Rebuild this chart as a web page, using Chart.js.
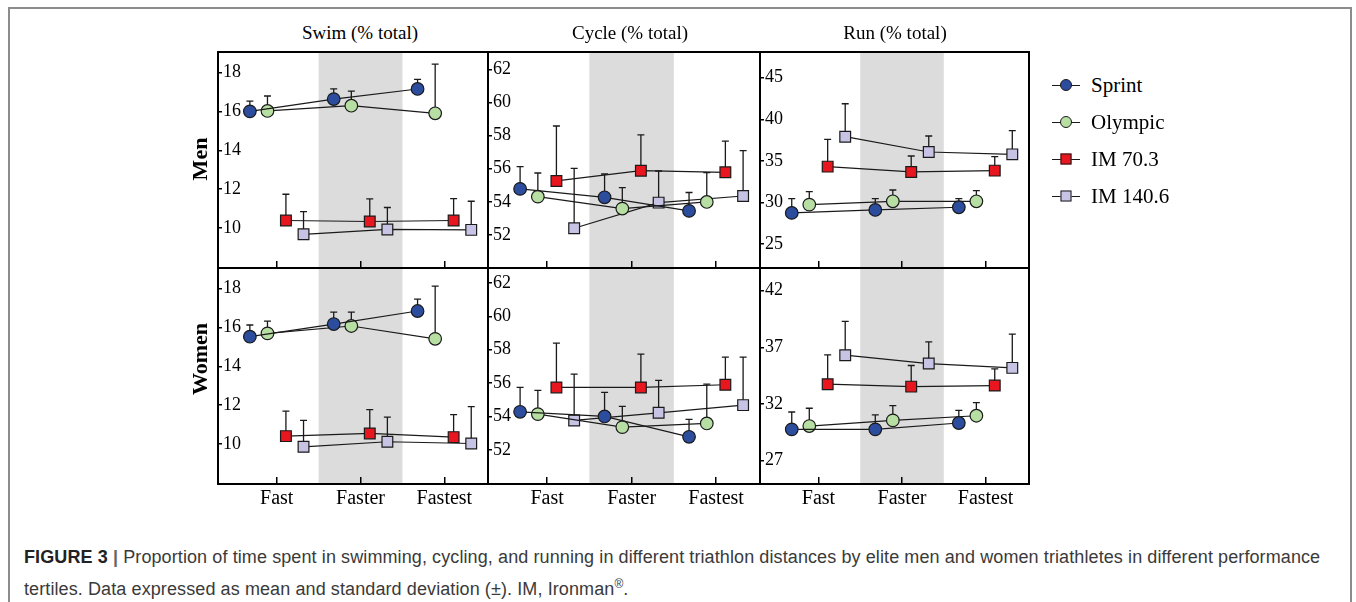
<!DOCTYPE html>
<html>
<head>
<meta charset="utf-8">
<script src="https://cdn.jsdelivr.net/npm/chart.js@4"></script>
<style>
  body { margin: 0; background: #fff; }
  #fig { position: relative; width: 1356px; height: 602px; overflow: hidden; font-family: 'Liberation Serif', 'Times New Roman', serif; color: #000; }
  #frame { position: absolute; left: 8px; top: 7px; width: 1344px; height: 700px; border: 2px solid #8c8c8c; border-bottom: none; box-sizing: border-box; }
  .panel { position: absolute; }
  .coltitle { position: absolute; top: 22px; font-size: 19px; transform: translateX(-50%); white-space: nowrap; }
  .rowlabel { position: absolute; font-weight: bold; font-size: 22px; transform: translate(-50%, -50%) rotate(-90deg); white-space: nowrap; }
  .item { position: absolute; left: 1052px; height: 24px; display: flex; align-items: center; }
  .sym { position: relative; width: 28px; height: 24px; }
  .sym .ln { position: absolute; left: 0; right: 0; top: 11.5px; height: 1.3px; background: #1a1a1a; }
  .sym .mk { position: absolute; left: 50%; top: 50%; transform: translate(-50%, -50%); border: 1.2px solid #1a1a1a; box-sizing: border-box; }
  .item span { margin-left: 11px; font-size: 21px; white-space: nowrap; }
  #caption { position: absolute; left: 24px; top: 541px; font-family: 'Liberation Sans', Arial, sans-serif; font-size: 18px; letter-spacing: 0.1px; line-height: 32px; color: #3a3a3a; white-space: nowrap; }
  #caption b { color: #222; }
  #caption sup { font-size: 12px; line-height: 0; }
</style>
</head>
<body>
<div id="fig">
  <div id="frame"></div>
  <div id="caption"><b>FIGURE 3</b> <b style="color:#666">|</b> Proportion of time spent in swimming, cycling, and running in different triathlon distances by elite men and women triathletes in different performance<br>tertiles. Data expressed as mean and standard deviation (±). IM, Ironman<sup>®</sup>.</div>
</div>
<script>
// categories and series
const tertiles = ['Fast', 'Faster', 'Fastest'];
const seriesNames = ['Sprint', 'Olympic', 'IM 70.3', 'IM 140.6'];
const disciplines = ['Swim (% total)', 'Cycle (% total)', 'Run (% total)'];
const sexes = ['Men', 'Women'];

// tick labels
const swimTicks = [10, 12, 14, 16, 18];
const cycleTicks = [52, 54, 56, 58, 60, 62];
const menRunTicks = [25, 30, 35, 40, 45];
const womenRunTicks = [27, 32, 37, 42];

// means (rows = Sprint, Olympic, IM 70.3, IM 140.6; cols = Fast, Faster, Fastest)
const menSwim = [[16.0, 16.63, 17.15], [16.02, 16.29, 15.9], [10.39, 10.34, 10.39], [9.68, 9.93, 9.91]];
const menCycle = [[54.78, 54.27, 53.45], [54.31, 53.59, 53.99], [55.26, 55.88, 55.78], [52.4, 53.95, 54.35]];
const menRun = [[28.73, 29.09, 29.41], [29.73, 30.13, 30.13], [34.3, 33.66, 33.82], [37.91, 36.06, 35.78]];
const womenSwim = [[15.52, 16.17, 16.84], [15.69, 16.07, 15.41], [10.41, 10.55, 10.36], [9.86, 10.12, 10.03]];
const womenCycle = [[54.28, 54.0, 52.78], [54.14, 53.36, 53.58], [55.74, 55.74, 55.9], [53.76, 54.22, 54.68]];
const womenRun = [[29.77, 29.77, 30.33], [30.06, 30.56, 30.97], [33.75, 33.54, 33.63], [36.31, 35.57, 35.19]];

// standard deviations (drawn upward only)
const menSwimSd = [[0.53, 0.53, 0.49], [0.77, 0.75, 2.53], [1.35, 1.16, 1.13], [1.17, 1.13, 1.47]];
const menCycleSd = [[1.34, 1.41, 1.11], [1.43, 1.27, 1.77], [3.32, 2.16, 1.89], [3.62, 1.91, 2.74]];
const menRunSd = [[1.72, 1.36, 1.04], [1.56, 1.36, 1.28], [3.29, 1.92, 1.68], [3.96, 1.93, 2.85]];
const womenSwimSd = [[0.6, 0.61, 0.61], [0.63, 0.71, 2.71], [1.29, 1.22, 1.15], [1.36, 1.27, 1.9]];
const womenCycleSd = [[1.46, 1.44, 1.04], [1.42, 1.24, 2.36], [2.66, 2.0, 1.66], [2.78, 1.94, 2.88]];
const womenRunSd = [[1.53, 1.27, 1.12], [1.57, 1.3, 1.16], [2.59, 1.86, 1.47], [2.98, 1.92, 2.98]];

// styling
const fills = ['#2c4c9e', '#b8dfa3', '#e8171f', '#c6c3e4'];
const markers = ['circle', 'circle', 'rect', 'rect'];
const markerRadius = [6.3, 6.3, 7.6, 7.6];
const dodge = [-0.32, -0.11, 0.11, 0.32];
const colEdges = [218, 488, 760, 1029];
const rowEdges = [52, 268, 484];
const M = 6; // canvas margin around the plot box

const fig = document.getElementById('fig');

// Shaded middle tertile + upward SD bars + panel frame
const panelDecor = {
  id: 'panelDecor',
  beforeDraw(chart) {
    const { ctx, chartArea, scales: { x } } = chart;
    const x0 = x.getPixelForValue(1.5), x1 = x.getPixelForValue(2.5);
    ctx.save();
    ctx.fillStyle = '#dcdcdc';
    ctx.fillRect(x0, chartArea.top, x1 - x0, chartArea.bottom - chartArea.top);
    ctx.restore();
  },
  beforeDatasetsDraw(chart) {
    const { ctx, scales: { y } } = chart;
    ctx.save();
    ctx.strokeStyle = '#1a1a1a';
    ctx.lineWidth = 1.3;
    chart.data.datasets.forEach((ds, di) => {
      chart.getDatasetMeta(di).data.forEach((pt, i) => {
        const yTop = y.getPixelForValue(ds.data[i].y + ds.sd[i]);
        ctx.beginPath();
        ctx.moveTo(pt.x, pt.y);
        ctx.lineTo(pt.x, yTop);
        ctx.moveTo(pt.x - 3.5, yTop);
        ctx.lineTo(pt.x + 3.5, yTop);
        ctx.stroke();
      });
    });
    ctx.restore();
  },
  afterDraw(chart) {
    const { ctx, chartArea: a } = chart;
    ctx.save();
    ctx.strokeStyle = '#000';
    ctx.lineWidth = 2;
    ctx.strokeRect(a.left, a.top, a.right - a.left, a.bottom - a.top);
    ctx.restore();
  }
};

function noPad(sc) {
  sc.paddingTop = 0;
  sc.paddingBottom = 0;
  sc.paddingLeft = 0;
  sc.paddingRight = 0;
}

function makePanel(col, row, means, sds, yMin, yMax, yTicks) {
  const showX = row === 1;
  const w = colEdges[col + 1] - colEdges[col];
  const h = rowEdges[row + 1] - rowEdges[row];
  const extra = showX ? 32 : 0;
  const cw = w + 2 * M, ch = h + 2 * M + extra;

  const wrap = document.createElement('div');
  wrap.className = 'panel';
  wrap.style.left = (colEdges[col] - M) + 'px';
  wrap.style.top = (rowEdges[row] - M) + 'px';
  wrap.style.width = cw + 'px';
  wrap.style.height = ch + 'px';
  const canvas = document.createElement('canvas');
  canvas.width = cw;
  canvas.height = ch;
  canvas.style.width = cw + 'px';
  canvas.style.height = ch + 'px';
  wrap.appendChild(canvas);
  fig.appendChild(wrap);

  const datasets = means.map((vals, s) => ({
    label: seriesNames[s],
    data: vals.map((v, i) => ({ x: i + 1 + dodge[s], y: v })),
    sd: sds[s],
    borderColor: '#1a1a1a',
    borderWidth: 1.2,
    tension: 0,
    fill: false,
    pointStyle: markers[s],
    pointRadius: markerRadius[s],
    pointHoverRadius: markerRadius[s],
    pointBackgroundColor: fills[s],
    pointBorderColor: '#1a1a1a',
    pointBorderWidth: 1.2
  }));

  new Chart(canvas, {
    type: 'line',
    data: { datasets: datasets },
    options: {
      responsive: false,
      animation: false,
      events: [],
      layout: { padding: { left: M, right: M, top: M, bottom: M }, autoPadding: false },
      plugins: { legend: { display: false }, tooltip: { enabled: false } },
      scales: {
        x: {
          type: 'linear',
          min: 0.3,
          max: 3.52,
          afterBuildTicks: sc => { sc.ticks = tertiles.map((t, i) => ({ value: i + 1 })); },
          afterFit: sc => { sc.height = extra; noPad(sc); },
          border: { display: false },
          grid: { drawOnChartArea: false, drawTicks: true, tickLength: -7, color: '#000', lineWidth: 1.5 },
          ticks: {
            display: showX,
            autoSkip: false,
            maxRotation: 0,
            padding: 10,
            color: '#000',
            font: { family: 'Liberation Serif', size: 20 },
            callback: (v, i) => tertiles[i]
          }
        },
        y: {
          min: yMin,
          max: yMax,
          afterBuildTicks: sc => { sc.ticks = yTicks.map(v => ({ value: v })); },
          afterFit: sc => { sc.width = 0; noPad(sc); },
          border: { display: false },
          grid: { drawOnChartArea: false, drawTicks: true, tickLength: -4, color: '#000', lineWidth: 1.5 },
          ticks: {
            mirror: true,
            padding: 5,
            color: '#000',
            font: { family: 'Liberation Serif', size: 18 },
            callback: v => v
          }
        }
      }
    },
    plugins: [panelDecor]
  });
}

makePanel(0, 0, menSwim, menSwimSd, 7.95, 19.05, swimTicks);
makePanel(1, 0, menCycle, menCycleSd, 50.0, 63.05, cycleTicks);
makePanel(2, 0, menRun, menRunSd, 22.1, 48.1, menRunTicks);
makePanel(0, 1, womenSwim, womenSwimSd, 7.95, 19.05, swimTicks);
makePanel(1, 1, womenCycle, womenCycleSd, 49.95, 62.9, cycleTicks);
makePanel(2, 1, womenRun, womenRunSd, 24.95, 44.0, womenRunTicks);

// column titles
const titleCenters = [360, 630, 895];
disciplines.forEach((t, i) => {
  const d = document.createElement('div');
  d.className = 'coltitle';
  d.style.left = titleCenters[i] + 'px';
  d.textContent = t;
  fig.appendChild(d);
});

// row labels
const rowLabelY = [159, 359];
sexes.forEach((t, i) => {
  const d = document.createElement('div');
  d.className = 'rowlabel';
  d.style.left = '200px';
  d.style.top = rowLabelY[i] + 'px';
  d.textContent = t;
  fig.appendChild(d);
});

// legend
seriesNames.forEach((name, s) => {
  const item = document.createElement('div');
  item.className = 'item';
  item.style.top = (73 + s * 37) + 'px';
  const sym = document.createElement('div');
  sym.className = 'sym';
  const ln = document.createElement('div');
  ln.className = 'ln';
  const mk = document.createElement('div');
  mk.className = 'mk';
  const size = markers[s] === 'circle' ? 12 : 11;
  mk.style.width = size + 'px';
  mk.style.height = size + 'px';
  mk.style.background = fills[s];
  if (markers[s] === 'circle') mk.style.borderRadius = '50%';
  sym.appendChild(ln);
  sym.appendChild(mk);
  const label = document.createElement('span');
  label.textContent = name;
  item.appendChild(sym);
  item.appendChild(label);
  fig.appendChild(item);
});
</script>
</body>
</html>
